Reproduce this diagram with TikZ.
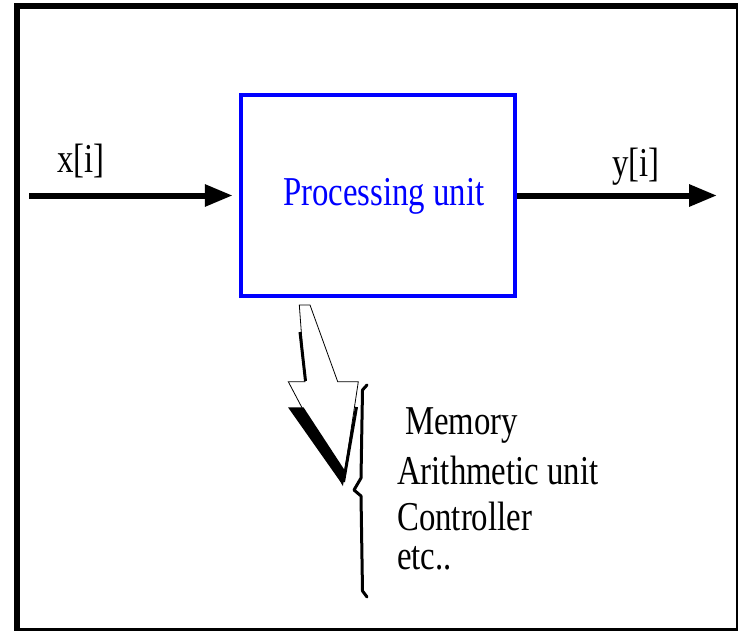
\documentclass[tikz,border=0pt]{standalone}
\usepackage{fontspec}
\setmainfont{Liberation Serif}
\newfontfamily\condfont[FakeStretch=0.8]{Liberation Serif}
\usetikzlibrary{arrows.meta}
\definecolor{pblue}{RGB}{0,0,255}
\tikzset{
  lbl/.style={font=\condfont\fontsize{41}{49}\selectfont, inner sep=0pt, anchor=base west},
  unitbox/.style={draw=pblue, line width=4.5pt, minimum width=274pt, minimum height=201pt, inner sep=0pt},
  sigarrow/.style={line width=6pt, -{Triangle[length=28pt,width=21pt]}},
  frame/.style={line width=6pt},
  bracepath/.style={line width=3pt, line join=round, line cap=round}
}
\begin{document}
\begin{tikzpicture}[x=1pt,y=-1pt]
\useasboundingbox (0,0) rectangle (738,631);
\clip (0,0) rectangle (738,631);
\draw[frame] (17,6) rectangle (739,631);

% processing unit
\node[unitbox] (proc) at (378,195.5) {};
\node[lbl, text=pblue] (ptext) at (283,205) {Processing unit};

% signals
\coordinate (xin) at (29,195.5);
\coordinate (yout) at (717,195.5);
\draw[sigarrow, shorten >=6pt] (xin) -- (proc.west);
\draw[sigarrow] (proc.east) -- (yout);
\node[lbl] (xlab) at (57,172) {x[i]};
\node[lbl] (ylab) at (612,177) {y[i]};

% hollow block arrow with shadow
\draw[line width=0.8pt, line join=miter, fill=white]
  (299.3,305) -- (310,305) -- (337.7,381.7) -- (358.3,381.7) -- (342.7,485)
  -- (288.3,381.7) -- (305,381.7) -- cycle;
\fill[black] (288,407.3) -- (303.5,407.3) -- (344.5,470) -- (342.7,485) -- cycle;
\draw[line width=3pt] (300,332) -- (305.5,381);
\draw[line width=3pt] (356.5,407) -- (343.5,482);

% brace
\draw[bracepath] (367,385) -- (362.5,390) -- (361,478) -- (354,490) -- (361,496) -- (362.5,591) -- (367,597);

% list
\node[lbl] (mem) at (405,434) {Memory};
\node[lbl] (alu) at (397,484) {Arithmetic unit};
\node[lbl] (ctrl) at (397,530) {Controller};
\node[lbl] (etc) at (397,569) {etc..};
\end{tikzpicture}
\end{document}
